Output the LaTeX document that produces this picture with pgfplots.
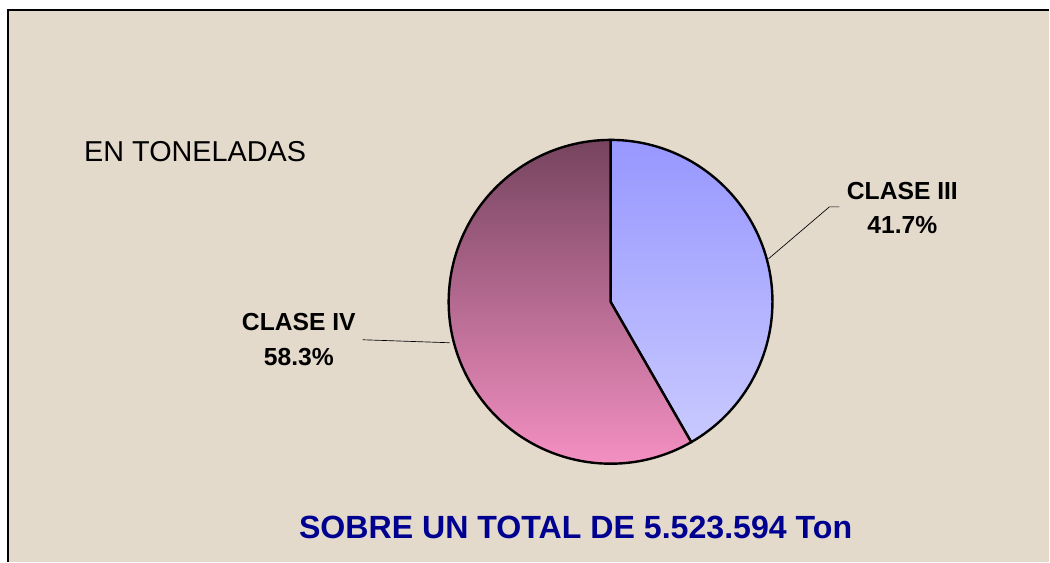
\documentclass[border=0pt]{standalone}
\usepackage{fontspec}
\setmainfont{Liberation Sans}
\usepackage{pgfplots}
\pgfplotsset{compat=1.18}
\usepackage{pgfplotstable}

\definecolor{bgbeige}{HTML}{E3DACC}
\definecolor{cIIItop}{HTML}{9797FF}
\definecolor{cIIIbot}{HTML}{C9C9FF}
\definecolor{cIVtop}{HTML}{76445F}
\definecolor{cIVbot}{HTML}{FC95C9}
\definecolor{titleblue}{HTML}{000090}

% share of each class (percent)
\pgfplotstableread{
label value
III 41.7
IV 58.3
}\piedata

\pgfplotstablegetelem{0}{value}\of\piedata
\let\vIII\pgfplotsretval
\pgfmathsetmacro{\angIII}{90-3.6*\vIII}

\begin{document}
\begin{tikzpicture}
\begin{axis}[
    hide axis,
    scale only axis,
    width=787.5pt, height=421.5pt,
    xmin=0, xmax=1050,
    ymin=0, ymax=562,
    y dir=reverse,
    clip=false,
]
% page and textured background
\fill[white] (axis cs:0,0) rectangle (axis cs:1050,562);
\fill[bgbeige] (axis cs:8,10) rectangle (axis cs:1050,562);
\draw[black, line width=1.1pt] (axis cs:8,562) -- (axis cs:8,10) -- (axis cs:1050,10);

% pie slices
\shadedraw[top color=cIIItop, bottom color=cIIIbot, draw=black, line width=1.8pt, line join=round]
    (axis cs:611,302) -- ++(90:121.5pt) arc[start angle=90, end angle=\angIII, radius=121.5pt] -- cycle;
\shadedraw[top color=cIVtop, bottom color=cIVbot, draw=black, line width=1.8pt, line join=round]
    (axis cs:611,302) -- ++(\angIII:121.5pt) arc[start angle=\angIII, end angle=-270, radius=121.5pt] -- cycle;

% leader lines
\draw[black, line width=0.5pt] (axis cs:840,207) -- (axis cs:830,207) -- (axis cs:769,259);
\draw[black, line width=0.5pt] (axis cs:363,340) -- (axis cs:450,343);

% labels
\node[align=center, font=\bfseries\fontsize{18.5}{26}\selectfont] at (axis cs:903,208) {CLASE III\\41.7\%};
\node[align=center, font=\bfseries\fontsize{18.5}{26}\selectfont] at (axis cs:299,340) {CLASE IV\\58.3\%};
\node[anchor=west, inner sep=0pt, font=\fontsize{21.6}{25}\selectfont] at (axis cs:84,152) {EN TONELADAS};
\node[font=\bfseries\fontsize{24.1}{28}\selectfont, text=titleblue] at (axis cs:576,528) {SOBRE UN TOTAL DE 5.523.594 Ton};
\end{axis}
\end{tikzpicture}
\end{document}
